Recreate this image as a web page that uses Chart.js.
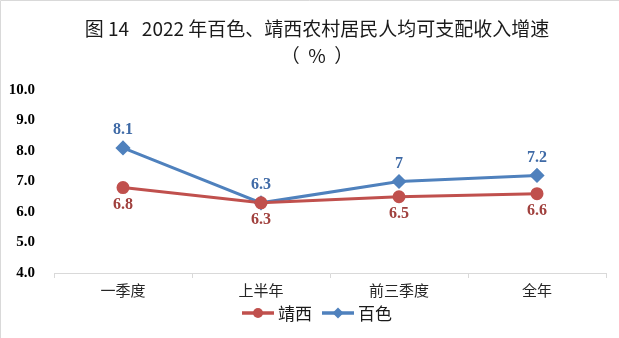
<!DOCTYPE html>
<html>
<head>
<meta charset="utf-8">
<script src="https://cdn.jsdelivr.net/npm/chart.js@4.4.0/dist/chart.umd.min.js"></script>
<style>
  html, body { margin: 0; padding: 0; background: #fff; }
  #wrap { width: 619px; height: 338px; position: relative; }
</style>
</head>
<body>
<div id="wrap"><canvas id="c" width="619" height="338"></canvas></div>
<script>
// Quarterly periods and income growth (%) for the two areas
const categories = ['一季度', '上半年', '前三季度', '全年'];
const jingxi = [6.8, 6.3, 6.5, 6.6];
const baise = [8.1, 6.3, 7, 7.2];
const yTicks = [4, 5, 6, 7, 8, 9, 10];
const titleLines = ['图 14\u00a0\u00a0\u00a02022 年百色、靖西农村居民人均可支配收入增速', '（\u00a0\u00a0%\u00a0\u00a0）'];

const RED = '#C0504D';
const BLUE = '#4F81BD';
const RED_TEXT = '#A0403D';
const BLUE_TEXT = '#3F6AA6';
const CJK = '"Noto Sans CJK SC", sans-serif';
const SERIF = '"Liberation Serif", "Times New Roman", serif';
const CENTER_X = 317;

function drawMarker(ctx, shape, x, y, color, r) {
  ctx.fillStyle = color;
  ctx.beginPath();
  if (shape === 'circle') {
    ctx.arc(x, y, r, 0, Math.PI * 2);
  } else {
    ctx.moveTo(x, y - r); ctx.lineTo(x + r, y); ctx.lineTo(x, y + r); ctx.lineTo(x - r, y); ctx.closePath();
  }
  ctx.fill();
}

// Two-line title, drawn centred above the plot
const titleBlock = {
  id: 'titleBlock',
  afterDraw(chart) {
    const ctx = chart.ctx;
    ctx.save();
    ctx.fillStyle = '#1a1a1a';
    ctx.font = '19px ' + CJK;
    ctx.textAlign = 'center';
    ctx.textBaseline = 'middle';
    ctx.fillText(titleLines[0], CENTER_X, 29);
    ctx.fillText(titleLines[1], CENTER_X, 56);
    ctx.restore();
  }
};

// Legend row: line-and-marker swatch followed by the series name
const legendRow = {
  id: 'legendRow',
  afterDraw(chart) {
    const ctx = chart.ctx;
    ctx.save();
    ctx.font = '17px ' + CJK;
    ctx.textBaseline = 'middle';
    const sw = 32, gapText = 4, gapItem = 10, y = 313;
    const items = chart.data.datasets.map(ds => ({ ds, w: sw + gapText + ctx.measureText(ds.label).width }));
    const total = items.reduce((s, it) => s + it.w, 0) + gapItem * (items.length - 1);
    let x = CENTER_X - total / 2;
    items.forEach(({ ds, w }) => {
      ctx.strokeStyle = ds.borderColor;
      ctx.lineWidth = 3.5;
      ctx.beginPath(); ctx.moveTo(x, y); ctx.lineTo(x + sw, y); ctx.stroke();
      drawMarker(ctx, ds.pointStyle === 'circle' ? 'circle' : 'diamond', x + sw / 2, y, ds.borderColor, ds.pointStyle === 'circle' ? 5 : 5.5);
      ctx.fillStyle = '#1a1a1a';
      ctx.textAlign = 'left';
      ctx.fillText(ds.label, x + sw + gapText, y + 1);
      x += w + gapItem;
    });
    ctx.restore();
  }
};

// Value labels: blue series above its points, red series below
const valueLabels = {
  id: 'valueLabels',
  afterDatasetsDraw(chart) {
    const ctx = chart.ctx;
    ctx.save();
    ctx.font = 'bold 16px ' + SERIF;
    ctx.textAlign = 'center';
    ctx.textBaseline = 'middle';
    chart.data.datasets.forEach((ds, i) => {
      const meta = chart.getDatasetMeta(i);
      meta.data.forEach((pt, j) => {
        ctx.fillStyle = ds.labelColor;
        ctx.fillText(String(ds.data[j]), pt.x, pt.y + (ds.labelAbove ? -18 : 17));
      });
    });
    ctx.restore();
  }
};

// Thin frame on the top and left edges
const frame = {
  id: 'frame',
  afterDraw(chart) {
    const ctx = chart.ctx;
    ctx.save();
    ctx.strokeStyle = '#d9d9d9';
    ctx.lineWidth = 1;
    ctx.beginPath();
    ctx.moveTo(0.5, chart.height); ctx.lineTo(0.5, 0.5); ctx.lineTo(chart.width, 0.5);
    ctx.stroke();
    ctx.restore();
  }
};

new Chart(document.getElementById('c'), {
  type: 'line',
  data: {
    labels: categories,
    datasets: [
      {
        label: '靖西', data: jingxi,
        borderColor: RED, backgroundColor: RED, borderWidth: 3,
        pointStyle: 'circle', pointRadius: 5, pointHoverRadius: 5,
        labelColor: RED_TEXT, labelAbove: false
      },
      {
        label: '百色', data: baise,
        borderColor: BLUE, backgroundColor: BLUE, borderWidth: 3,
        pointStyle: 'rectRot', pointRadius: 5.5, pointHoverRadius: 5.5,
        labelColor: BLUE_TEXT, labelAbove: true
      }
    ]
  },
  options: {
    responsive: false,
    animation: false,
    events: [],
    layout: { padding: { left: 0, right: 13, top: 90, bottom: 36 } },
    scales: {
      x: {
        offset: true,
        grid: { offset: true, drawOnChartArea: false, drawTicks: true, tickLength: 5, color: '#d9d9d9' },
        border: { display: true, color: '#d9d9d9', width: 1 },
        ticks: {
          color: '#262626', padding: 3,
          font: { family: CJK, size: 15 }
        }
      },
      y: {
        min: 4, max: 10,
        afterFit(scale) { scale.width = 54; },
        afterBuildTicks(scale) { scale.ticks = yTicks.map(v => ({ value: v })); },
        grid: { display: false },
        border: { display: false },
        ticks: {
          color: '#000', padding: 11,
          font: { family: SERIF, size: 15, weight: 'bold' },
          callback: v => v.toFixed(1)
        }
      }
    },
    plugins: {
      title: { display: false },
      legend: { display: false },
      tooltip: { enabled: false }
    }
  },
  plugins: [valueLabels, titleBlock, legendRow, frame]
});
</script>
</body>
</html>
